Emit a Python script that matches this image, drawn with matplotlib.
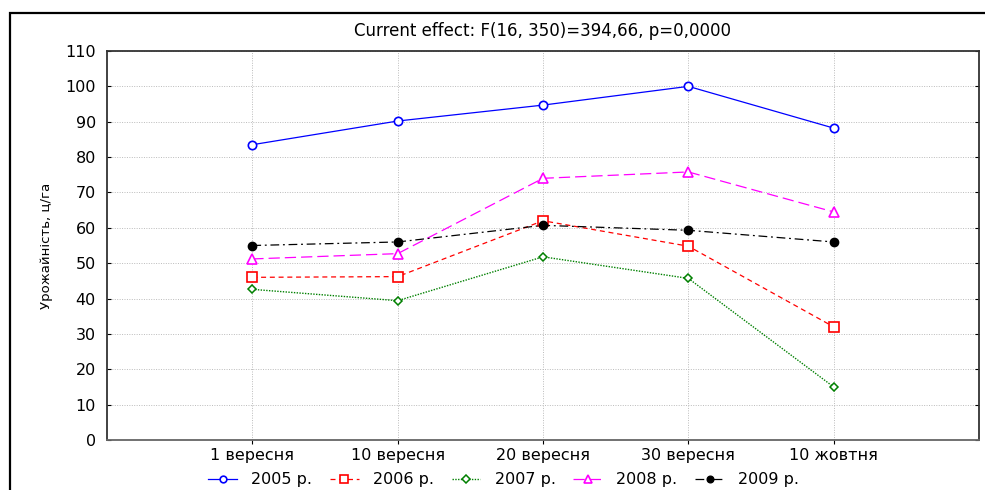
import matplotlib
matplotlib.use('Agg')
import matplotlib.pyplot as plt
from matplotlib.patches import Rectangle

plt.rcParams['font.family'] = ['DejaVu Sans']

dates = ['1 вересня', '10 вересня', '20 вересня', '30 вересня', '10 жовтня']
y2005 = [83.5, 90.2, 94.7, 100.0, 88.2]
y2006 = [46.0, 46.2, 62.0, 54.8, 32.0]
y2007 = [42.6, 39.4, 51.8, 45.7, 15.0]
y2008 = [51.2, 52.7, 74.0, 75.8, 64.5]
y2009 = [55.0, 56.0, 60.7, 59.3, 56.0]

fig = plt.figure(figsize=(9.85, 4.9), dpi=100)
ax = fig.add_axes([107/985, 1 - 440/490, (979-107)/985, (440-51)/490])

# outer frame
fig.patches.append(Rectangle((10/985, -0.1), 1.2, 1 - 13/490 + 0.1, transform=fig.transFigure,
                             fill=False, edgecolor='black', linewidth=1.6))

x = range(len(dates))
ax.plot(x, y2005, color='blue', ls='-', lw=0.9, marker='o', ms=6, mfc='white', mec='blue', mew=1.2, label='2005 р.')
ax.plot(x, y2006, color='red', ls=(0, (4, 3)), lw=0.9, marker='s', ms=7, mfc='white', mec='red', mew=1.2, label='2006 р.')
ax.plot(x, y2007, color='green', ls=(0, (1, 1)), lw=1.0, marker='D', ms=4.5, mfc='white', mec='green', mew=1.1, label='2007 р.')
ax.plot(x, y2008, color='magenta', ls=(0, (9, 4)), lw=0.9, marker='^', ms=7, mfc='white', mec='magenta', mew=1.2, label='2008 р.')
ax.plot(x, y2009, color='black', ls=(0, (7, 3, 1.5, 3)), lw=0.9, marker='o', ms=6, mfc='black', mec='black', label='2009 р.')

ax.set_xlim(-1, 5)
ax.set_ylim(0, 110)
ax.set_xticks(list(x))
ax.set_xticklabels(dates, fontsize=11.5)
ax.set_yticks(range(0, 111, 10))
ax.tick_params(axis='y', labelsize=11.5, direction='in', length=3, right=True, pad=8)
ax.tick_params(axis='x', direction='out', length=3, pad=3)
ax.grid(True, color='#bbbbbb', ls=(0, (1, 1.5)), lw=0.7)
for s in ax.spines.values():
    s.set_linewidth(1.3)
    s.set_color('#333333')
ax.spines['bottom'].set_color('#666666')

ax.set_title('Current effect: F(16, 350)=394,66, p=0,0000', fontsize=12, pad=11)
ax.set_ylabel('Урожайність, ц/га', fontsize=9.5, labelpad=9)

ax.legend(loc='upper center', bbox_to_anchor=(0.455, -0.062), ncol=5, frameon=False,
          fontsize=11.5, handlelength=1.8, columnspacing=1.1, handletextpad=0.9, borderpad=0,
          markerscale=0.8)

fig.savefig('out.png', dpi=100)
